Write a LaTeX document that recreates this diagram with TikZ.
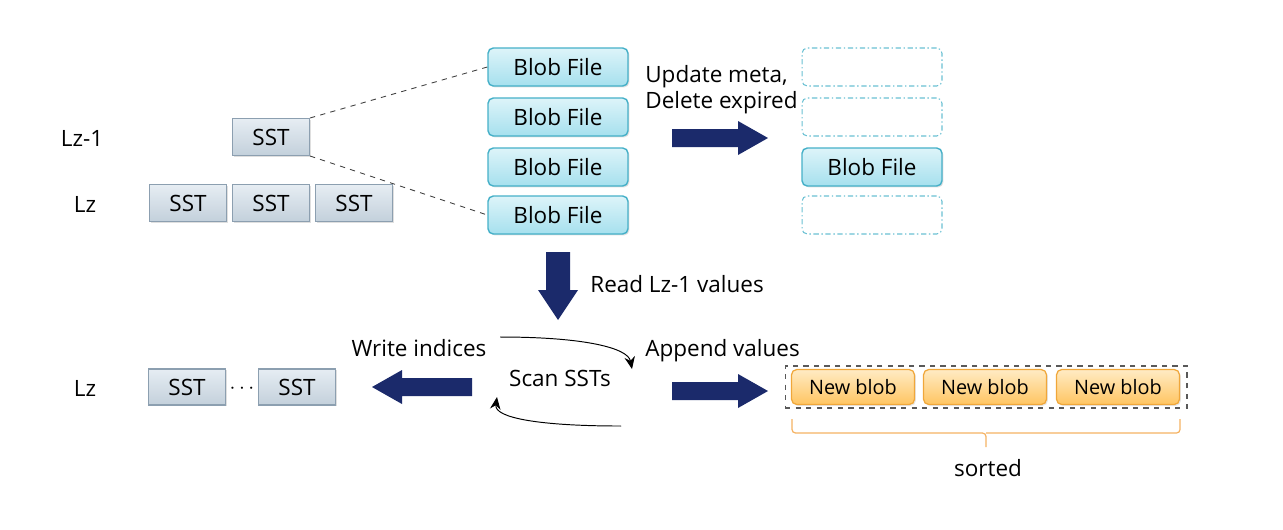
\documentclass[tikz,border=0pt]{standalone}
\usepackage{fontspec}
\setmainfont{Open Sans}
\usetikzlibrary{shadows,calc,arrows.meta}
\definecolor{navy}{HTML}{1B2A6B}
\definecolor{sstline}{HTML}{8C9FB0}
\definecolor{ssttop}{HTML}{E6EDF3}
\definecolor{sstbot}{HTML}{C3D0DB}
\definecolor{blobline}{HTML}{45B0C8}
\definecolor{blobtop}{HTML}{DDF4F9}
\definecolor{blobbot}{HTML}{A6E0EE}
\definecolor{newline}{HTML}{F0A73A}
\definecolor{newtop}{HTML}{FFEBC4}
\definecolor{newbot}{HTML}{FFC562}
\definecolor{bracecol}{HTML}{F5B262}
\tikzset{
  sstbox/.style={draw=sstline, line width=0.6pt, top color=ssttop, bottom color=sstbot,
    minimum width=1.54cm, minimum height=0.74cm, inner sep=0pt, font=\fontsize{12.8}{15}\selectfont,
    drop shadow={opacity=0.25, shadow xshift=0.8pt, shadow yshift=-0.8pt}},
  blobbox/.style={draw=blobline, line width=0.8pt, rounded corners=3pt, top color=blobtop, bottom color=blobbot,
    minimum width=2.8cm, minimum height=0.76cm, inner sep=0pt, font=\fontsize{12.8}{15}\selectfont,
    drop shadow={opacity=0.25, shadow xshift=0.8pt, shadow yshift=-0.8pt}},
  emptyblob/.style={draw=blobline!80, line width=0.6pt, rounded corners=3pt,
    dash pattern=on 3pt off 1.5pt on 0.8pt off 1.5pt,
    minimum width=2.8cm, minimum height=0.76cm, inner sep=0pt},
  newblob/.style={draw=newline, line width=0.7pt, rounded corners=3pt, top color=newtop, bottom color=newbot,
    minimum width=2.46cm, minimum height=0.7cm, inner sep=0pt, font=\fontsize{11.3}{13}\selectfont,
    drop shadow={opacity=0.2, shadow xshift=0.8pt, shadow yshift=-0.8pt}},
  lbl/.style={inner sep=0pt, font=\fontsize{12.8}{14.7}\selectfont},
  fatarrow/.style={fill=navy, draw=none},
  link/.style={draw=black!75, dashed, line width=0.5pt},
  loop/.style={draw=black, line width=0.55pt, -{Stealth[length=7pt,width=6pt]}},
}
\begin{document}
\begin{tikzpicture}[x=0.02cm, y=-0.02cm]
\useasboundingbox (0,0) rectangle (1283,529);

% level labels
\node[lbl] (lz1) at (82,138) {Lz-1};
\node[lbl] (lz) at (85,204) {Lz};
\node[lbl] (lzb) at (85,388) {Lz};

% SSTs before compaction
\node[sstbox] (sst) at (271,137) {SST};
\node[sstbox] (sa) at (188,203) {SST};
\node[sstbox] (sb) at (271,203) {SST};
\node[sstbox] (sc) at (354,203) {SST};

% blob files referenced by the Lz-1 SST
\node[blobbox] (b1) at (558,67) {Blob File};
\node[blobbox] (b2) at (558,117) {Blob File};
\node[blobbox] (b3) at (558,167) {Blob File};
\node[blobbox] (b4) at (558,215) {Blob File};
\draw[link] (sst.north east) -- (b1.west);
\draw[link] (sst.south east) -- (b4.west);

% metadata update
\node[lbl, anchor=west, align=left] (upd) at (645,90) {Update meta,\\Delete expired};
\coordinate (ra) at (672,138);
\fill[fatarrow] (ra) ++(0,-9) -- ++(66,0) -- ++(0,-8) -- ++(30,17) -- ++(-30,17) -- ++(0,-8) -- ++(-66,0) -- cycle;
\node[emptyblob] (e1) at (872,67) {};
\node[emptyblob] (e2) at (872,117) {};
\node[blobbox] (b5) at (872,167) {Blob File};
\node[emptyblob] (e4) at (872,215) {};

% read values
\coordinate (da) at (558,252);
\fill[fatarrow] (da) ++(-12,0) -- ++(24,0) -- ++(0,38) -- ++(8,0) -- ++(-20,30) -- ++(-20,-30) -- ++(8,0) -- cycle;
\node[lbl, anchor=west] (read) at (590,284) {Read Lz-1 values};

% scan loop
\node[lbl] (scan) at (560,378) {Scan SSTs};
\coordinate (lt) at (500,337);
\coordinate (lh) at (632,369);
\coordinate (rt) at (621,426);
\coordinate (rh) at (497,397);
\draw[loop] (lt) .. controls (585,337) and (628,348) .. (lh);
\draw[loop] (rt) .. controls (540,426) and (494,418) .. (rh);

% write indices
\node[lbl] (wi) at (419,348) {Write indices};
\coordinate (la) at (472,387);
\fill[fatarrow] (la) ++(0,-9) -- ++(-70,0) -- ++(0,-8) -- ++(-30,17) -- ++(30,17) -- ++(0,-8) -- ++(70,0) -- cycle;
\node[sstbox, minimum height=0.72cm] (s1) at (187,387) {SST};
\node[sstbox, minimum height=0.72cm] (s2) at (297,387) {SST};
\node[lbl] (dots) at (242,389) {$\cdots$};

% append values
\node[lbl, anchor=west] (app) at (645,351) {Append values};
\coordinate (aa) at (672,391);
\fill[fatarrow] (aa) ++(0,-9) -- ++(66,0) -- ++(0,-8) -- ++(30,17) -- ++(-30,17) -- ++(0,-8) -- ++(-66,0) -- cycle;
\node[draw=black!65, dashed, line width=0.6pt, minimum width=8.04cm, minimum height=0.84cm, inner sep=0pt] (grp) at (986,387) {};
\node[newblob] (n1) at (853,387) {New blob};
\node[newblob] (n2) at (985,387) {New blob};
\node[newblob] (n3) at (1118,387) {New blob};

% sorted brace
\coordinate (bm) at (986,433);
\draw[bracecol, line width=0.7pt, rounded corners=2pt] (792,419) |- (bm) -- (986,447);
\draw[bracecol, line width=0.7pt, rounded corners=2pt] (1180,419) |- (bm);
\node[lbl] (sorted) at (988,468) {sorted};
\end{tikzpicture}
\end{document}
